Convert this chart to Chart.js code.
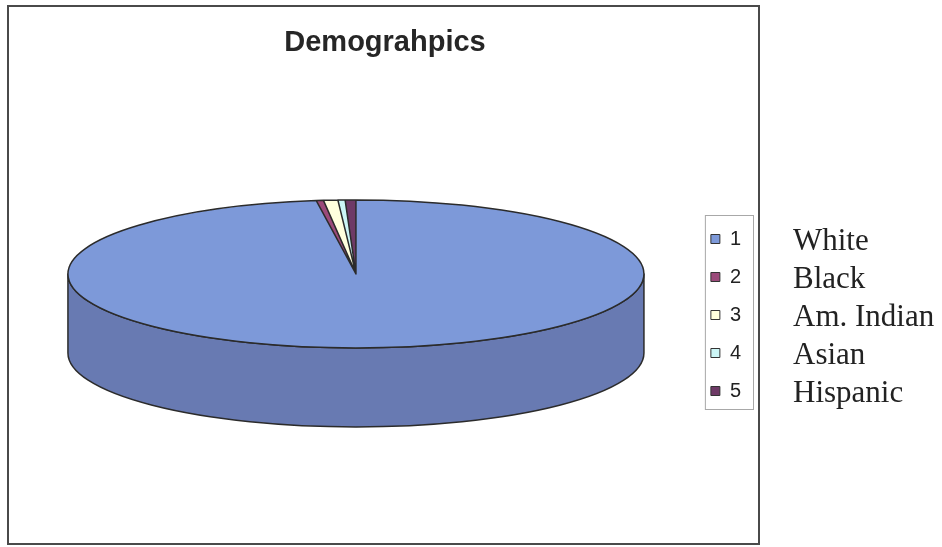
<!DOCTYPE html>
<html lang="en">
<head>
<meta charset="UTF-8">
<title>Demograhpics</title>
<style>
  body { margin: 0; background: #fff; }
  #wrap { position: relative; width: 942px; height: 547px; }
  #nombres {
    position: absolute; left: 793px; top: 221px;
    font-family: "Liberation Serif", "Times New Roman", serif;
    font-size: 31px; line-height: 38px; color: #222;
  }
</style>
</head>
<body>
<div id="wrap">
  <canvas id="chart" width="942" height="547"></canvas>
  <div id="nombres"></div>
</div>

<script src="https://cdn.jsdelivr.net/npm/chart.js@4.4.0/dist/chart.umd.min.js"></script>
<script>
// datos
const categorias = ['1', '2', '3', '4', '5'];
const nombres = ['White', 'Black', 'Am. Indian', 'Asian', 'Hispanic'];
const porcentajes = [97.8, 0.4, 0.8, 0.4, 0.6];

// estilos
const colores = ['#7D99D9', '#9B4A7A', '#FFFFDD', '#CCF6F6', '#6E3A66'];
const coloresLado = ['#687AB2', '#7A3A60', '#D8D8B8', '#A8CCCC', '#542C4E'];
const ALTO = 79;            // grosor del disco
const ESCALA = 74 / 288;    // aplastamiento vertical
const LINEA = '#2b2b2b';

document.getElementById('nombres').innerHTML = nombres.map(n => '<div>' + n + '</div>').join('');

// dibuja el lado del disco y aplasta la cara superior
const pie3d = {
  id: 'pie3d',
  beforeDraw(chart) {
    const ctx = chart.ctx;
    ctx.save();
    ctx.fillStyle = '#fff';
    ctx.fillRect(0, 0, chart.width, chart.height);
    ctx.strokeStyle = '#4a4a4a';
    ctx.lineWidth = 2;
    ctx.strokeRect(8, 6, 751, 538);
    ctx.restore();
  },
  beforeDatasetsDraw(chart) {
    const ctx = chart.ctx;
    const arcos = chart.getDatasetMeta(0).data;
    ctx.save();
    ctx.lineWidth = 1.5;
    ctx.strokeStyle = LINEA;
    ctx.lineJoin = 'round';
    arcos.forEach((a, i) => {
      const ry = a.outerRadius * ESCALA;
      [-2 * Math.PI, 0, 2 * Math.PI].forEach(off => {
        const ini = Math.max(a.startAngle, off);
        const fin = Math.min(a.endAngle, off + Math.PI);
        if (ini >= fin) return;
        ctx.beginPath();
        ctx.ellipse(a.x, a.y, a.outerRadius, ry, 0, ini, fin);
        ctx.ellipse(a.x, a.y + ALTO, a.outerRadius, ry, 0, fin, ini, true);
        ctx.closePath();
        ctx.fillStyle = coloresLado[i];
        ctx.fill();
        ctx.stroke();
      });
    });
    ctx.restore();

    const a0 = arcos[0];
    ctx.save();
    ctx.translate(a0.x, a0.y);
    ctx.scale(1, ESCALA);
    ctx.translate(-a0.x, -a0.y);
  },
  afterDatasetsDraw(chart) {
    const ctx = chart.ctx;
    const arcos = chart.getDatasetMeta(0).data;
    ctx.beginPath();
    arcos.forEach(a => {
      ctx.moveTo(a.x, a.y);
      ctx.arc(a.x, a.y, a.outerRadius, a.startAngle, a.endAngle);
      ctx.closePath();
    });
    ctx.restore();
    ctx.save();
    ctx.lineWidth = 1.5;
    ctx.strokeStyle = LINEA;
    ctx.lineJoin = 'round';
    ctx.stroke();
    ctx.restore();
  },
  afterDraw(chart) {
    // marco de la leyenda
    const hb = chart.legend.legendHitBoxes;
    if (!hb || !hb.length) return;
    const primero = hb[0], ultimo = hb[hb.length - 1];
    const izq = primero.left - 6;
    const der = primero.left + primero.width + 12;
    const arriba = primero.top - 14;
    const abajo = ultimo.top + ultimo.height + 8;
    const ctx = chart.ctx;
    ctx.save();
    ctx.strokeStyle = '#a8a8a8';
    ctx.lineWidth = 1;
    ctx.strokeRect(izq + 0.5, arriba + 0.5, der - izq, abajo - arriba);
    ctx.restore();
  }
};

const data = {
  labels: categorias,
  datasets: [{
    data: porcentajes,
    backgroundColor: colores,
    borderWidth: 0,
    radius: 288,
    hoverOffset: 0,
    clip: false
  }]
};

const config = {
  type: 'pie',
  data: data,
  options: {
    responsive: false,
    animation: false,
    events: [],
    layout: {
      padding: { left: 19, right: 191, top: 0, bottom: 128 }
    },
    plugins: {
      title: {
        display: true,
        text: 'Demograhpics',
        color: '#262626',
        font: { family: "'Liberation Sans', Arial, sans-serif", size: 29, weight: 'bold' },
        padding: { top: 26, bottom: 68 }
      },
      legend: {
        position: 'right',
        align: 'end',
        labels: {
          boxWidth: 9,
          boxHeight: 9,
          padding: 18,
          color: '#222',
          font: { family: "'Liberation Sans', Arial, sans-serif", size: 20 },
          generateLabels(chart) {
            const items = Chart.overrides.pie.plugins.legend.labels.generateLabels(chart);
            items.forEach(it => { it.strokeStyle = '#333'; it.lineWidth = 1; });
            return items;
          }
        }
      },
      tooltip: { enabled: false }
    }
  },
  plugins: [pie3d]
};

const chart = new Chart(document.getElementById('chart').getContext('2d'), config);
</script>
</body>
</html>
